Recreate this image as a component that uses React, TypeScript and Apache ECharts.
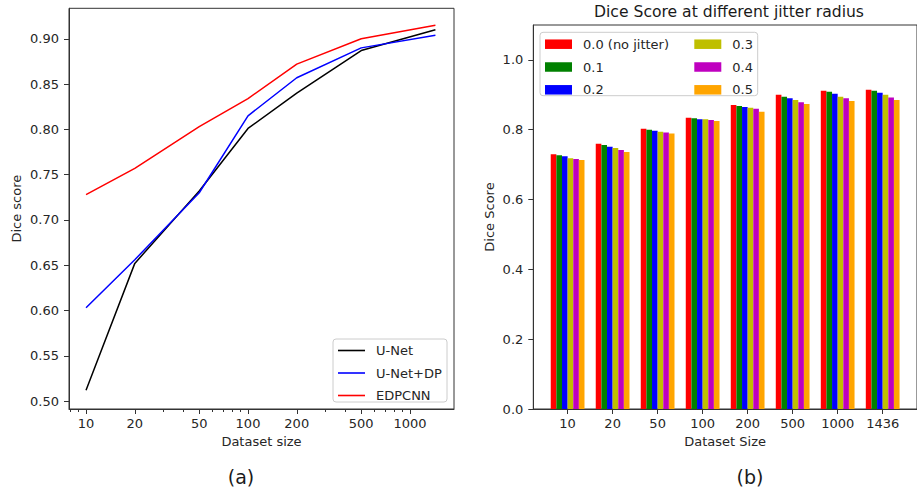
import React, { useEffect, useRef } from 'react';
import * as echarts from 'echarts';

// ---- (a) line chart data ----
const datasetSizes = [10, 20, 50, 100, 200, 500, 1436];
const unetScores = [0.512, 0.652, 0.732, 0.801, 0.84, 0.887, 0.91];
const unetDpScores = [0.603, 0.656, 0.73, 0.815, 0.857, 0.89, 0.904];
const edpcnnScores = [0.728, 0.757, 0.803, 0.834, 0.872, 0.9, 0.915];
const lineSeriesNames = ['U-Net', 'U-Net+DP', 'EDPCNN'];
const lineXTicks = [10, 20, 50, 100, 200, 500, 1000];
const lineXMinorTicks = [8, 9, 30, 40, 60, 70, 80, 90, 300, 400, 600, 700, 800, 900];
const lineYTicks = [0.5, 0.55, 0.6, 0.65, 0.7, 0.75, 0.8, 0.85, 0.9];

// ---- (b) bar chart data ----
const barCategories = ['10', '20', '50', '100', '200', '500', '1000', '1436'];
const jitterNames = ['0.0 (no jitter)', '0.1', '0.2', '0.3', '0.4', '0.5'];
const jitter00 = [0.73, 0.7595, 0.8026, 0.834, 0.8707, 0.9, 0.9118, 0.9147];
const jitter01 = [0.727, 0.756, 0.8, 0.833, 0.868, 0.8946, 0.909, 0.912];
const jitter02 = [0.724, 0.751, 0.797, 0.83, 0.865, 0.89, 0.903, 0.906];
const jitter03 = [0.718, 0.748, 0.794, 0.83, 0.863, 0.885, 0.8946, 0.9];
const jitter04 = [0.716, 0.742, 0.792, 0.8276, 0.86, 0.879, 0.89, 0.8925];
const jitter05 = [0.713, 0.7365, 0.789, 0.8247, 0.8514, 0.8736, 0.882, 0.885];
const barYTicks = [0, 0.2, 0.4, 0.6, 0.8, 1.0];

const FONT = 'DejaVu Sans';
const TEXT = '#262626';
const AXIS = '#333333';
const lineColors = ['#000000', '#0000ff', '#ff0000'];
const barColors = ['#ff0000', '#008000', '#0000ff', '#bfbf00', '#bf00bf', '#ffa500'];

export default function App() {
  const ref = useRef<HTMLDivElement>(null);

  useEffect(() => {
    if (!ref.current) return;
    const chart = echarts.init(ref.current, undefined, { renderer: 'svg' });

    const lineData = [unetScores, unetDpScores, edpcnnScores];
    const barData = [jitter00, jitter01, jitter02, jitter03, jitter04, jitter05];
    const catIdx = barCategories.map((_, i) => i);

    const labelStyle = { fontSize: 13, fontFamily: FONT, color: TEXT };
    const axisLine = { show: true, onZero: false, lineStyle: { color: AXIS, width: 1 } };

    const option: any = {
      animation: false,
      backgroundColor: '#ffffff',
      grid: [
        { left: 69, top: 8.3, right: 463, bottom: 82, show: true, borderColor: AXIS, borderWidth: 1, backgroundColor: 'transparent' },
        { left: 533.3, top: 25, right: -8.1, bottom: 82, show: true, borderColor: AXIS, borderWidth: 1, backgroundColor: 'transparent' },
      ],
      xAxis: [
        {
          type: 'log', logBase: 10, gridIndex: 0, min: 7.85, max: 1870, position: 'bottom',
          axisLine,
          axisTick: { show: true, length: 5, customValues: lineXTicks, lineStyle: { color: AXIS } },
          axisLabel: { ...labelStyle, customValues: lineXTicks, margin: 8, formatter: (v: number) => String(Math.round(v)) },
          splitLine: { show: false }, minorTick: { show: false },
          name: 'Dataset size', nameLocation: 'middle', nameGap: 26, nameTextStyle: labelStyle,
        },
        {
          type: 'log', logBase: 10, gridIndex: 0, min: 7.85, max: 1870, position: 'bottom',
          axisLine: { show: false },
          axisTick: { show: true, length: 3, customValues: lineXMinorTicks, lineStyle: { color: AXIS } },
          axisLabel: { show: false },
          splitLine: { show: false },
        },
        {
          type: 'value', gridIndex: 1, min: -0.7625, max: 7.7625, position: 'bottom',
          axisLine,
          axisTick: { show: true, length: 5, customValues: catIdx, lineStyle: { color: AXIS } },
          axisLabel: { ...labelStyle, customValues: catIdx, margin: 8, formatter: (v: number) => barCategories[Math.round(v)] ?? '' },
          splitLine: { show: false },
          name: 'Dataset Size', nameLocation: 'middle', nameGap: 26, nameTextStyle: labelStyle,
        },
      ],
      yAxis: [
        {
          type: 'value', gridIndex: 0, min: 0.4912, max: 0.9337,
          axisLine,
          axisTick: { show: true, length: 5, customValues: lineYTicks, lineStyle: { color: AXIS } },
          axisLabel: { ...labelStyle, customValues: lineYTicks, margin: 10, formatter: (v: number) => v.toFixed(2) },
          splitLine: { show: false },
          name: 'Dice score', nameLocation: 'middle', nameGap: 46, nameRotate: 90, nameTextStyle: labelStyle,
        },
        {
          type: 'value', gridIndex: 1, min: 0, max: 1.1,
          axisLine,
          axisTick: { show: true, length: 5, customValues: barYTicks, lineStyle: { color: AXIS } },
          axisLabel: { ...labelStyle, customValues: barYTicks, margin: 10, formatter: (v: number) => v.toFixed(1) },
          splitLine: { show: false },
          name: 'Dice Score', nameLocation: 'middle', nameGap: 37, nameRotate: 90, nameTextStyle: labelStyle,
        },
      ],
      legend: [
        {
          data: lineSeriesNames, orient: 'vertical', left: 338, top: 344, padding: 0, icon: 'rect',
          itemWidth: 27, itemHeight: 1.6, itemGap: 9.5, z: 10, selectedMode: false,
          textStyle: { ...labelStyle, lineHeight: 10, padding: [0, 0, 0, 6] },
        },
        {
          data: jitterNames.slice(0, 3), orient: 'vertical', left: 545, top: 37.7, padding: 0, icon: 'rect',
          itemWidth: 27, itemHeight: 9.5, itemGap: 9.8, z: 10, selectedMode: false,
          textStyle: { ...labelStyle, lineHeight: 10, padding: [0, 0, 0, 6] },
        },
        {
          data: jitterNames.slice(3), orient: 'vertical', left: 694.3, top: 37.7, padding: 0, icon: 'rect',
          itemWidth: 27, itemHeight: 9.5, itemGap: 9.8, z: 10, selectedMode: false,
          textStyle: { ...labelStyle, lineHeight: 10, padding: [0, 0, 0, 6] },
        },
      ],
      graphic: [
        { type: 'rect', z: 5, shape: { x: 333, y: 339, width: 114, height: 63, r: 3 }, style: { fill: 'rgba(255,255,255,0.8)', stroke: '#cccccc', lineWidth: 1 } },
        { type: 'rect', z: 5, shape: { x: 540, y: 32.3, width: 217.7, height: 63.4, r: 3 }, style: { fill: 'rgba(255,255,255,0.8)', stroke: '#cccccc', lineWidth: 1 } },
        { type: 'text', x: 729, y: 12, style: { text: 'Dice Score at different jitter radius', fontSize: 15.6, fontFamily: FONT, fill: '#1a1a1a', align: 'center', verticalAlign: 'middle', textAlign: 'center', textVerticalAlign: 'middle' } },
        { type: 'text', x: 241, y: 476.7, style: { text: '(a)', fontSize: 19, fontFamily: FONT, fill: '#1a1a1a', align: 'center', verticalAlign: 'middle', textAlign: 'center', textVerticalAlign: 'middle' } },
        { type: 'text', x: 750, y: 476.7, style: { text: '(b)', fontSize: 19, fontFamily: FONT, fill: '#1a1a1a', align: 'center', verticalAlign: 'middle', textAlign: 'center', textVerticalAlign: 'middle' } },
      ],
      series: [
        ...lineSeriesNames.map((name, k) => ({
          name, type: 'line', xAxisIndex: 0, yAxisIndex: 0, symbol: 'none', showSymbol: false,
          color: lineColors[k],
          itemStyle: { color: lineColors[k] },
          lineStyle: { color: lineColors[k], width: 1.5 },
          data: datasetSizes.map((s, i) => [s, lineData[k][i]]),
        })),
        ...jitterNames.map((name, k) => ({
          name, type: 'bar', xAxisIndex: 2, yAxisIndex: 1,
          barGap: '0%', barCategoryGap: '25%',
          color: barColors[k],
          itemStyle: { color: barColors[k] },
          data: catIdx.map((i) => [i, barData[k][i]]),
        })),
      ],
    };

    chart.setOption(option);
    return () => chart.dispose();
  }, []);

  return <div ref={ref} style={{ position: 'absolute', left: 0, top: 0, width: 917, height: 491 }} />;
}
